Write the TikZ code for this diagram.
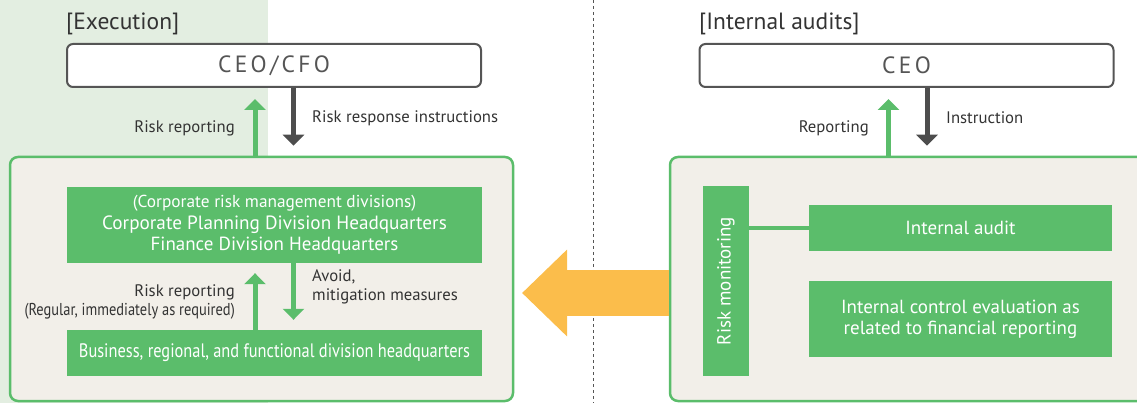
\documentclass[tikz,border=0pt]{standalone}
\usepackage{fontspec}
\setmainfont{PT Sans}
\newfontfamily\condfont[FakeStretch=0.84]{PT Sans}
\usetikzlibrary{arrows.meta}

\definecolor{riskgreen}{HTML}{5BBD6B}
\definecolor{boxbeige}{HTML}{F2EFE9}
\definecolor{execbg}{HTML}{E3EEE1}
\definecolor{headgray}{HTML}{555555}
\definecolor{arrowgray}{HTML}{4D4D4D}
\definecolor{labelgray}{HTML}{333333}
\definecolor{riskorange}{HTML}{FBBD4B}

\begin{document}
\begin{tikzpicture}[x=1pt, y=-1pt,
    outerbox/.style={draw=riskgreen, line width=2.5pt, fill=boxbeige, rounded corners=8pt},
    headbox/.style={draw=headgray, line width=2pt, fill=white, rounded corners=6pt,
        minimum width=414pt, minimum height=43pt, text=headgray,
        font=\fontsize{23.5}{26}\selectfont\addfontfeature{LetterSpace=14}},
    greenbox/.style={fill=riskgreen, text=white, align=center, inner sep=0pt,
        font=\fontsize{19}{21}\selectfont},
    heading/.style={text=labelgray, inner sep=0pt, font=\fontsize{23.5}{26}\selectfont},
    notetext/.style={text=labelgray, inner sep=0pt, font=\fontsize{16.7}{19}\selectfont},
    uparrow/.style={riskgreen, line width=5pt, -{Triangle[width=21pt,length=11pt]}},
    downarrow/.style={arrowgray, line width=5pt, -{Triangle[width=21pt,length=11pt]}},
    orangearrow/.style={riskorange, line width=46pt, -{Triangle[width=84pt,length=45pt]}},
    divider/.style={headgray, line width=1pt, dash pattern=on 3pt off 3pt}
]
    \useasboundingbox (0,0) rectangle (1137,403);
    \clip (0,0) rectangle (1137,403);

    % Background band and divider
    \fill[execbg] (0,0) rectangle (268,403);
    \draw[divider] (593,0) -- (593,403);

    % Headings
    \node[heading, anchor=west] (hexec) at (66,24) {[Execution]};
    \node[heading, anchor=west] (haudit) at (699,24) {[Internal audits]};

    % Top boxes
    \node[headbox] (ceocfo) at (274,65.5) {CEO/CFO};
    \node[headbox] (ceo) at (906.5,65.5) {CEO};

    % Outer boxes
    \node[outerbox, minimum width=503pt, minimum height=244pt] (exec) at (261.5,279) {};
    \node[outerbox, minimum width=490pt, minimum height=244pt] (audit) at (915,279) {};

    % Execution side
    \node[greenbox, minimum width=415pt, minimum height=76pt] (crm) at (274.5,225)
        {{\fontsize{17.3}{19}\selectfont (Corporate risk management divisions)}\\[1pt]
         \fontsize{19.2}{21}\selectfont Corporate Planning Division Headquarters\\
         Finance Division Headquarters};
    \node[greenbox, minimum width=415pt, minimum height=46pt,
        font=\condfont\fontsize{19.5}{21}\selectfont] (bus) at (274.5,353)
        {Business, regional, and functional division headquarters};

    % Internal audit side
    \node[greenbox, minimum width=46pt, minimum height=190pt] (mon) at (726,281)
        {\rotatebox{90}{Risk monitoring}};
    \node[greenbox, minimum width=303pt, minimum height=46pt] (ia) at (960.5,228) {Internal audit};
    \node[greenbox, minimum width=303pt, minimum height=76pt] (icfr) at (960.5,319)
        {Internal control evaluation as\\related to financial reporting};
    \draw[riskgreen, line width=4pt] (mon.east |- ia.west) -- (ia.west);

    % Reporting and instruction arrows
    \coordinate (upL) at (255,0);
    \coordinate (dnL) at (293.5,0);
    \coordinate (upR) at (888.5,0);
    \coordinate (dnR) at (927,0);
    \draw[uparrow, shorten >=11pt] (upL |- exec.north) -- (upL |- ceocfo.south);
    \draw[downarrow, shorten >=10pt] (dnL |- ceocfo.south) -- (dnL |- exec.north);
    \draw[uparrow, shorten >=10pt] (upL |- bus.north) -- (upL |- crm.south);
    \draw[uparrow, shorten >=10pt] (dnL |- crm.south) -- (dnL |- bus.north);
    \draw[uparrow, shorten >=11pt] (upR |- audit.north) -- (upR |- ceo.south);
    \draw[downarrow, shorten >=10pt] (dnR |- ceo.south) -- (dnR |- audit.north);

    % Labels
    \node[notetext, anchor=east] (lrisk) at (235,128) {Risk reporting};
    \node[notetext, anchor=west] (lresp) at (312,118) {Risk response instructions};
    \node[notetext, anchor=east] (lrisk2) at (235,292) {Risk reporting};
    \node[notetext, anchor=east, font=\condfont\fontsize{17.2}{19}\selectfont] (lregular) at (235,311)
        {(Regular, immediately as required)};
    \node[notetext, anchor=west, align=left] (lavoid) at (312,287) {Avoid,\\mitigation measures};
    \node[notetext, anchor=east] (lrep) at (869,128) {Reporting};
    \node[notetext, anchor=west] (linstr) at (946,118) {Instruction};

    % Monitoring feedback
    \coordinate (otip) at (522,293);
    \draw[orangearrow] (audit.west |- otip) -- (otip);
\end{tikzpicture}
\end{document}
